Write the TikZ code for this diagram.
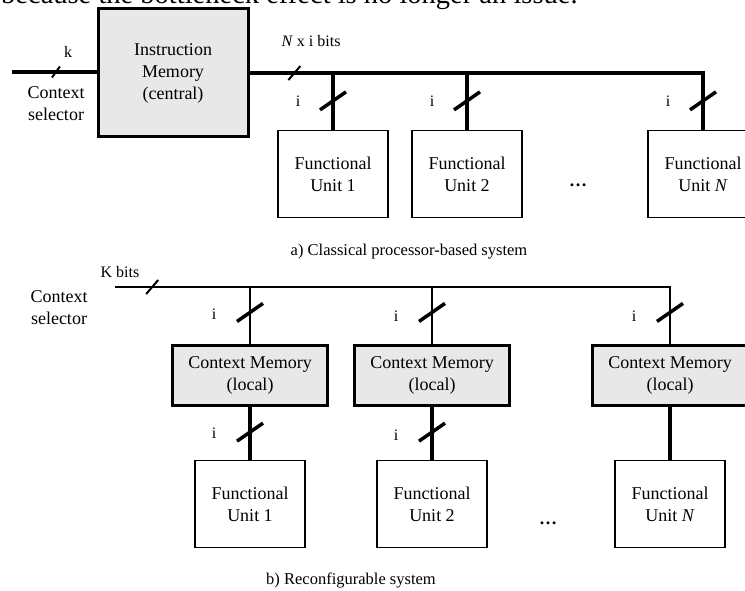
\documentclass[tikz,border=0pt]{standalone}
\usepackage{fontspec}
\setmainfont{Liberation Serif}
\usetikzlibrary{positioning, calc}
\definecolor{memgray}{RGB}{232, 232, 232}

\tikzset{
  membox/.style={draw, line width=3pt, fill=memgray, align=center, inner sep=0pt,
    font=\fontsize{18}{22}\selectfont},
  unitbox/.style={draw, line width=1.2pt, fill=white, align=center, inner sep=0pt,
    minimum width=110pt, minimum height=87pt, font=\fontsize{18}{22}\selectfont},
  lbl/.style={align=center, inner sep=0pt, font=\fontsize{18}{22}\selectfont},
  small/.style={inner sep=0pt, font=\fontsize{16}{19}\selectfont},
  caption/.style={inner sep=0pt, font=\fontsize{16.5}{19}\selectfont},
  toptext/.style={inner sep=0pt, font=\fontsize{28.5}{32}\selectfont},
  bus/.style={line width=3.5pt},
  busthin/.style={line width=2.7pt},
  tick/.style={line width=2pt},
  bigtick/.style={line width=3.5pt}
}

\begin{document}
\begin{tikzpicture}[x=1pt, y=-1pt]
  \useasboundingbox (0,0) rectangle (745,591);
  \clip (0,0) rectangle (745,591);

  % end of the running text above the figure
  \node[toptext, anchor=base west] (runin) at (1,4) {because the bottleneck effect is no longer an issue.};

  % a) classical system
  \node[membox, minimum width=150pt, minimum height=128pt] (imem) at (173,73) {Instruction\\Memory\\(central)};
  \node[small] (klbl) at (68,52) {k};
  \node[lbl] (ctxsela) at (56,104) {Context\\selector};

  \node[unitbox] (fua1) at (333,174) {Functional\\Unit 1};
  \node[unitbox] (fua2) at (467,174) {Functional\\Unit 2};
  \node[unitbox] (fuaN) at (703,174) {Functional\\Unit \textit{N}};
  \node[lbl, anchor=base] (dotsa) at (578,186) {\textbf{\dots}};

  \coordinate (ctxa) at (12,72);
  \coordinate (busaend) at (fuaN.north |- imem.east);
  \draw[bus] (ctxa) -- coordinate[pos=0.52] (ka) (ctxa -| imem.west);
  \draw[bus] (imem.east) -- coordinate[pos=0.099] (nxi) (busaend) -- coordinate[pos=0.49] (fuaN-t) (fuaN.north);
  \foreach \u in {fua1, fua2}
    \draw[bus] (\u.north |- imem.east) -- coordinate[pos=0.49] (\u-t) (\u.north);

  \node[small] (nxilbl) at (311,41) {\textit{N} x i bits};
  \draw[tick] (ka) +(-4,5.5) -- +(4,-5.5);
  \draw[tick] (nxi) +(-6,7) -- +(6,-7);
  \foreach \u in {fua1, fua2, fuaN} {
    \draw[bigtick] (\u-t) +(-13,9) -- +(13,-9);
    \node[small, xshift=-35pt] at (\u-t) {i};
  }

  \node[caption] (capa) at (409,252) {a) Classical processor-based system};

  % b) reconfigurable system
  \node[small] (kbits) at (120,272) {K bits};
  \node[lbl] (ctxselb) at (59,308) {Context\\selector};

  \node[membox, minimum width=155pt, minimum height=60pt] (cm1) at (250,375) {Context Memory\\(local)};
  \node[membox, minimum width=155pt, minimum height=60pt] (cm2) at (432,375) {Context Memory\\(local)};
  \node[membox, minimum width=155pt, minimum height=60pt] (cmN) at (670,375) {Context Memory\\(local)};

  \node[unitbox] (fub1) at (250,504) {Functional\\Unit 1};
  \node[unitbox] (fub2) at (432,504) {Functional\\Unit 2};
  \node[unitbox] (fubN) at (670,504) {Functional\\Unit \textit{N}};
  \node[lbl, anchor=base] (dotsb) at (548,524) {\textbf{\dots}};

  \coordinate (ctxb) at (115,287);
  \draw[busthin] (ctxb) -- coordinate[pos=0.067] (kb) (ctxb -| cmN.north) -- coordinate[pos=0.45] (cmN-t) (cmN.north);
  \foreach \m in {cm1, cm2}
    \draw[busthin] (\m.north |- ctxb) -- coordinate[pos=0.45] (\m-t) (\m.north);
  \foreach \m/\u in {cm1/fub1, cm2/fub2}
    \draw[bus] (\m.south) -- coordinate[pos=0.48] (\u-t) (\u.north);
  \draw[bus] (cmN.south) -- (fubN.north);

  \draw[tick] (kb) +(-6,7) -- +(6,-7);
  \foreach \t/\dy in {cm1-t/2, cm2-t/4, cmN-t/4, fub1-t/1, fub2-t/3} {
    \draw[bigtick] (\t) +(-13,9) -- +(13,-9);
    \node[small, xshift=-36pt, yshift=-\dy pt] at (\t) {i};
  }

  \node[caption] (capb) at (351,580) {b) Reconfigurable system};
\end{tikzpicture}
\end{document}
